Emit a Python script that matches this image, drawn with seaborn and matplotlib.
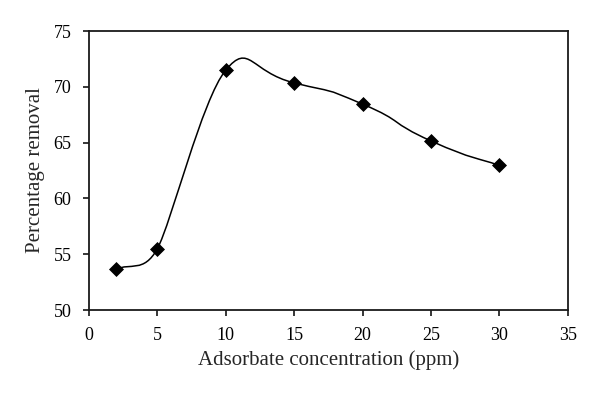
import numpy as np
import pandas as pd
import seaborn as sns
from matplotlib import pyplot as plt
from matplotlib.path import Path
from matplotlib.patches import PathPatch

# Values
concentration = [2, 5, 10, 15, 20, 25, 30]
removal = [53.65, 55.5, 71.5, 70.35, 68.45, 65.15, 62.95]

x_ticks = [0, 5, 10, 15, 20, 25, 30, 35]
y_ticks = [50, 55, 60, 65, 70, 75]

df = pd.DataFrame({'conc': concentration, 'removal': removal})

sns.set_style('ticks')
plt.rcParams['font.family'] = ['Liberation Serif', 'DejaVu Serif']

fig = plt.figure(figsize=(6.0, 3.97), dpi=100)
ax = fig.add_axes([0.1483, 0.2191, 0.798, 0.7028])
ax.set_xlim(0, 35)
ax.set_ylim(50, 75)


def smooth_path(xs, ys, box_w, box_h, k=0.65):
    """Excel-like smoothed line: cubic Bezier through the points.
    Handles come from the neighbours and are shortened next to short segments."""
    sx = box_w / 35.0
    sy = box_h / 25.0
    P = np.column_stack([np.asarray(xs) * sx, (np.asarray(ys) - 50) * sy])
    n = len(P)
    d = np.linalg.norm(np.diff(P, axis=0), axis=1)
    verts = [P[0]]
    codes = [Path.MOVETO]
    for i in range(n - 1):
        if i == 0:
            c1 = P[0] + (P[1] - P[0]) / 3.0
        else:
            T = P[i + 1] - P[i - 1]
            c1 = P[i] + T * min(d[i - 1], d[i]) / (d[i - 1] + d[i]) * k
        if i + 1 == n - 1:
            c2 = P[i + 1] - (P[i + 1] - P[i]) / 3.0
        else:
            T = P[i + 2] - P[i]
            c2 = P[i + 1] - T * min(d[i], d[i + 1]) / (d[i] + d[i + 1]) * k
        verts += [c1, c2, P[i + 1]]
        codes += [Path.CURVE4] * 3
    verts = np.array(verts)
    verts[:, 0] /= sx
    verts[:, 1] = verts[:, 1] / sy + 50
    return Path(verts, codes)


path = smooth_path(concentration, removal, 479, 279)
ax.add_patch(PathPatch(path, facecolor='none', edgecolor='black', lw=1.1, zorder=2))

sns.scatterplot(data=df, x='conc', y='removal', marker='D', s=50, color='black',
                edgecolor='black', ax=ax, zorder=3, legend=False)

ax.set_xticks(x_ticks)
ax.set_yticks(y_ticks)
ax.set_xlabel('Adsorbate concentration (ppm)', fontsize=15, labelpad=4)
ax.set_ylabel('Percentage removal', fontsize=15, labelpad=6)
ax.tick_params(axis='both', labelsize=13, direction='out', length=4.5, width=1.1,
               colors='black')
ax.tick_params(axis='y', pad=8)
ax.tick_params(axis='x', pad=8)
for sp in ax.spines.values():
    sp.set_linewidth(1.3)
    sp.set_color('#1a1a1a')

fig.savefig('out.png', dpi=100)
